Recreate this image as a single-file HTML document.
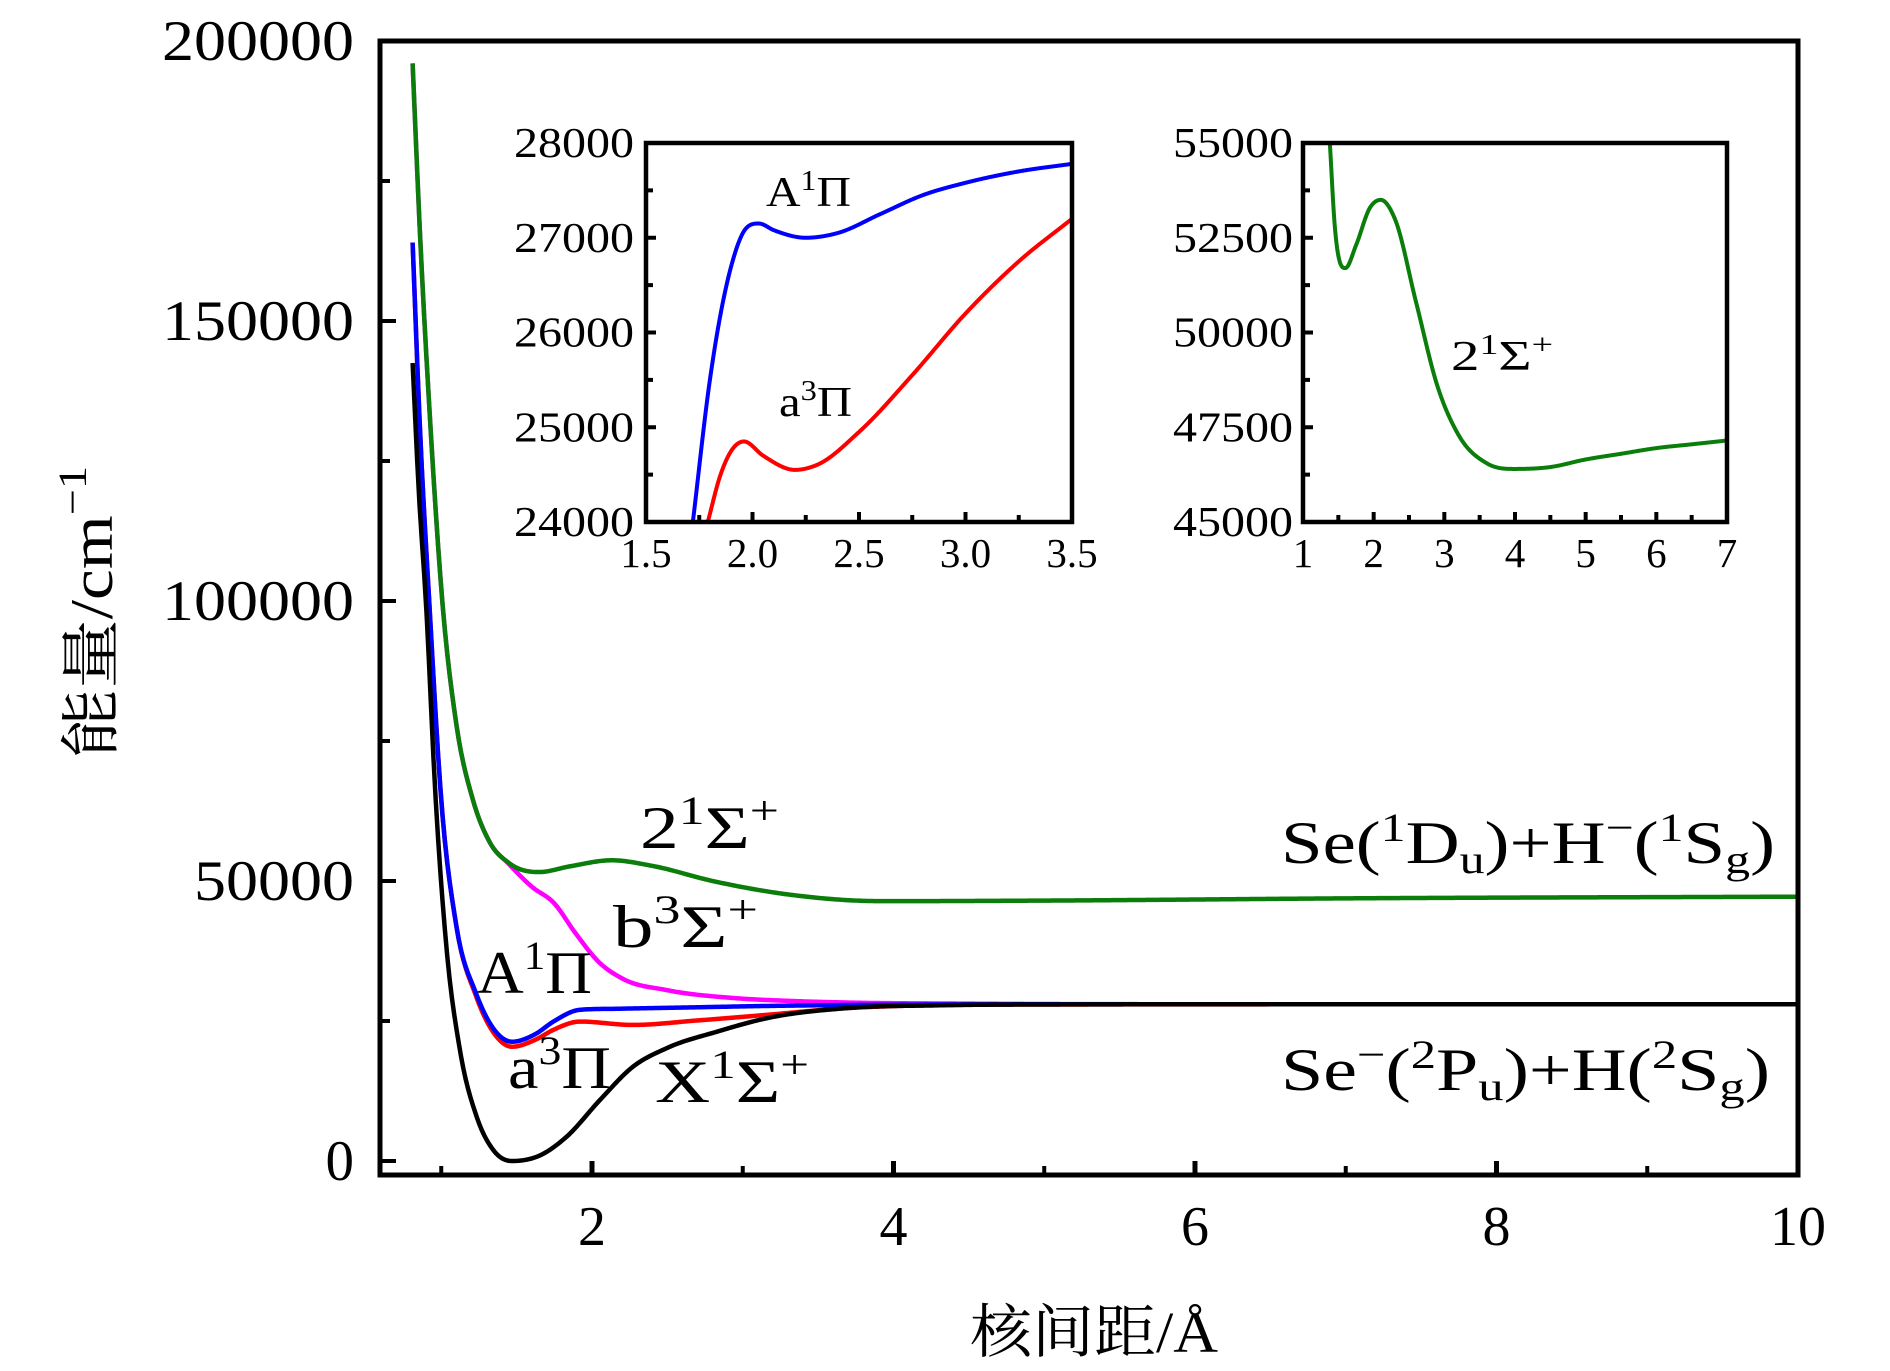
<!DOCTYPE html>
<html><head><meta charset="utf-8">
<style>
html,body{margin:0;padding:0;background:#fff;}
svg{display:block;font-family:"Liberation Serif","Noto Serif CJK SC",serif;}
</style></head>
<body>
<svg id="chart" width="1890" height="1371" viewBox="0 0 1890 1371" xmlns="http://www.w3.org/2000/svg">
<rect x="0" y="0" width="1890" height="1371" fill="#fff"/>
<g id="main-plot"></g>
<g id="inset1"></g>
<g id="inset2"></g>
<g id="labels">
<text x="640" y="848" font-size="60" textLength="139" lengthAdjust="spacingAndGlyphs">2<tspan font-size="40" dy="-24">1</tspan><tspan dy="24">Σ</tspan><tspan font-size="40" dy="-24">+</tspan></text>
<text x="613" y="947" font-size="60" textLength="145" lengthAdjust="spacingAndGlyphs">b<tspan font-size="40" dy="-24">3</tspan><tspan dy="24">Σ</tspan><tspan font-size="40" dy="-24">+</tspan></text>
<text x="477" y="993" font-size="60" textLength="115" lengthAdjust="spacingAndGlyphs">A<tspan font-size="40" dy="-24">1</tspan><tspan dy="24">Π</tspan></text>
<text x="508" y="1088" font-size="60" textLength="103" lengthAdjust="spacingAndGlyphs">a<tspan font-size="40" dy="-24">3</tspan><tspan dy="24">Π</tspan></text>
<text x="655" y="1102" font-size="60" textLength="154" lengthAdjust="spacingAndGlyphs">X<tspan font-size="40" dy="-24">1</tspan><tspan dy="24">Σ</tspan><tspan font-size="40" dy="-24">+</tspan></text>
<text x="1281" y="863" font-size="60" textLength="494" lengthAdjust="spacingAndGlyphs">Se(<tspan font-size="40" dy="-22">1</tspan><tspan dy="22">D</tspan><tspan font-size="40" dy="10">u</tspan><tspan dy="-10">)+H</tspan><tspan font-size="40" dy="-22">−</tspan><tspan dy="22">(</tspan><tspan font-size="40" dy="-22">1</tspan><tspan dy="22">S</tspan><tspan font-size="40" dy="10">g</tspan><tspan dy="-10">)</tspan></text>
<text x="1281" y="1090" font-size="60" textLength="489" lengthAdjust="spacingAndGlyphs">Se<tspan font-size="40" dy="-22">−</tspan><tspan dy="22">(</tspan><tspan font-size="40" dy="-22">2</tspan><tspan dy="22">P</tspan><tspan font-size="40" dy="10">u</tspan><tspan dy="-10">)+H(</tspan><tspan font-size="40" dy="-22">2</tspan><tspan dy="22">S</tspan><tspan font-size="40" dy="10">g</tspan><tspan dy="-10">)</tspan></text>
<text x="766" y="206" font-size="42" textLength="85" lengthAdjust="spacingAndGlyphs">A<tspan font-size="28" dy="-16">1</tspan><tspan dy="16">Π</tspan></text>
<text x="779" y="416" font-size="42" textLength="73" lengthAdjust="spacingAndGlyphs">a<tspan font-size="28" dy="-16">3</tspan><tspan dy="16">Π</tspan></text>
<text x="1451" y="370" font-size="42" textLength="102" lengthAdjust="spacingAndGlyphs">2<tspan font-size="28" dy="-16">1</tspan><tspan dy="16">Σ</tspan><tspan font-size="28" dy="-16">+</tspan></text>
<text transform="translate(112,612) rotate(-90)" text-anchor="middle" font-size="60" textLength="292" lengthAdjust="spacingAndGlyphs" font-family="'Liberation Serif','Noto Serif CJK SC',serif">能量/cm<tspan font-size="40" dy="-26">−1</tspan></text>
<text x="1094" y="1352" text-anchor="middle" font-size="58" textLength="248" lengthAdjust="spacingAndGlyphs" font-family="'Liberation Serif','Noto Serif CJK SC',serif">核间距/Å</text>
</g>
</svg>
<script>
// ---- main chart data ----
const xTicksMain = [2, 4, 6, 8, 10];
const xMinorMain = [1, 3, 5, 7, 9];
const yTicksMain = [0, 50000, 100000, 150000, 200000];
const yMinorMain = [25000, 75000, 125000, 175000];

const rX = [0.81,0.85,0.9,0.96,1.036,1.124,1.235,1.344,1.467,1.655,1.83,2.053,2.27,2.5,2.83,3.16,3.69,4.3,5,7,10];
const eX = [142500,120000,99000,66000,37700,19800,7900,2000,0,1000,4300,10900,16800,20200,23100,25500,27300,27800,27950,28000,28000];

const rA = [0.81,0.86,0.92,1.0,1.1,1.23,1.35,1.47,1.62,1.75,1.92,2.2,2.6,3.2,3.93,6,10];
const eA = [164000,130000,100000,64500,42000,30000,23500,21300,22600,25000,27000,27200,27400,27700,27900,28000,28000];

const rAa = [0.81,0.86,0.92,1.0,1.1,1.23,1.35,1.47,1.62,1.75,1.92,2.27,2.7,3.16,3.69,5,10];
const eAa = [164000,130000,100000,64500,42000,29500,22800,20400,21600,23500,24900,24300,25100,26100,27300,27950,28000];

const rG = [0.81,0.86,0.92,1.01,1.1,1.21,1.32,1.45,1.65,1.85,2.13,2.4,2.8,3.3,3.93,5,7,10];
const eG = [196000,165000,135000,99000,78000,64500,57000,53200,51600,52600,53700,52700,50000,47600,46400,46500,46900,47200];

const rB = [0.81,0.86,0.92,1.01,1.1,1.21,1.32,1.45,1.6,1.75,1.89,2.05,2.2,2.5,2.94,3.3,3.69,4.5,6,10];
const eB = [196000,165000,135000,99000,78000,64500,57000,53000,49000,46000,40700,35400,32600,30500,29100,28600,28300,28100,28000,28000];

// ---- inset 1 data ----
const xTicks1 = [1.5, 2.0, 2.5, 3.0, 3.5];
const yTicks1 = [24000, 25000, 26000, 27000, 28000];
const rI1A = [1.72,1.8,1.9,1.97,2.03,2.1,2.25,2.4,2.6,2.8,3.0,3.25,3.5];
const eI1A = [24000,25500,26700,27100,27150,27080,27000,27050,27250,27450,27580,27700,27780];
const rI1a = [1.79,1.85,1.9,1.96,2.05,2.2,2.3,2.5,2.75,3.0,3.25,3.5];
const eI1a = [24000,24500,24750,24850,24700,24550,24600,24950,25550,26200,26750,27200];

// ---- inset 2 data ----
const xTicks2 = [1, 2, 3, 4, 5, 6, 7];
const yTicks2 = [45000, 47500, 50000, 52500, 55000];
const rI2 = [1.38,1.45,1.6,1.75,1.95,2.1,2.3,2.6,2.9,3.2,3.6,4.0,4.5,5,5.5,6,6.5,7];
const eI2 = [55000,52800,51700,52300,53300,53500,53000,50800,48600,47300,46550,46400,46450,46650,46800,46950,47050,47150];

const NS = "http://www.w3.org/2000/svg";
function mk(parent, tag, attrs) {
  const el = document.createElementNS(NS, tag);
  for (const k in attrs) el.setAttribute(k, attrs[k]);
  parent.appendChild(el);
  return el;
}
function scale(d0, d1, p0, p1) { return v => p0 + (v - d0) / (d1 - d0) * (p1 - p0); }

function smooth(xs, ys) {
  const n = xs.length, d = [], m = [];
  for (let i = 0; i < n - 1; i++) d.push((ys[i+1]-ys[i])/(xs[i+1]-xs[i]));
  m[0] = d[0]; m[n-1] = d[n-2];
  for (let i = 1; i < n - 1; i++) {
    if (d[i-1]*d[i] <= 0) { m[i] = 0; continue; }
    const h0 = xs[i]-xs[i-1], h1 = xs[i+1]-xs[i];
    m[i] = (d[i-1]*h1 + d[i]*h0)/(h0+h1);
    const lim = 3*Math.min(Math.abs(d[i-1]), Math.abs(d[i]));
    if (Math.abs(m[i]) > lim) m[i] = Math.sign(m[i])*lim;
  }
  return x => {
    let i = 0;
    while (i < n - 2 && x > xs[i+1]) i++;
    const h = xs[i+1]-xs[i], t = (x - xs[i]) / h;
    const h00 = 2*t*t*t - 3*t*t + 1, h10 = t*t*t - 2*t*t + t, h01 = -2*t*t*t + 3*t*t, h11 = t*t*t - t*t;
    return h00*ys[i] + h10*h*m[i] + h01*ys[i+1] + h11*h*m[i+1];
  };
}
function curvePath(xs, ys, sx, sy) {
  const f = smooth(xs, ys);
  const a = xs[0], b = xs[xs.length-1], N = 600;
  let p = "";
  for (let k = 0; k <= N; k++) {
    const x = a + (b - a) * k / N;
    p += (k ? "L" : "M") + sx(x).toFixed(2) + "," + sy(f(x)).toFixed(2);
  }
  return p;
}

// ---------- main ----------
const mg = document.getElementById("main-plot");
const L = 380, R = 1798, T = 41, B = 1175;
const sx = scale(2, 10, 592, 1798);
const sy = scale(0, 200000, 1161, 41);
const clip = mk(mg, "clipPath", {id: "clipMain"});
mk(clip, "rect", {x: L, y: T, width: R - L, height: B - T});
const curves = mk(mg, "g", {"clip-path": "url(#clipMain)"});
const series = [
  ["curve-b3-sigma", rB, eB, "#ff00ff"],
  ["curve-2-sigma", rG, eG, "#0a7d0a"],
  ["curve-a3-pi", rAa, eAa, "#ff0000"],
  ["curve-A1-pi", rA, eA, "#0000ff"],
  ["curve-X1-sigma", rX, eX, "#000000"]
];
series.forEach(s => {
  const p = mk(curves, "path", {d: curvePath(s[1], s[2], sx, sy), fill: "none", stroke: s[3], "stroke-width": 4.5, "stroke-linejoin": "round"});
  
  
});
xTicksMain.forEach(v => {
  const t = mk(mg, "line", {x1: sx(v), x2: sx(v), y1: B, y2: B - 14, stroke: "#000", "stroke-width": 5});
  
  
  const lb = mk(mg, "text", {x: sx(v), y: 1245, "text-anchor": "middle", "font-size": 56});
  
  
  lb.textContent = String(v);
});
xMinorMain.forEach(v => {
  const t = mk(mg, "line", {x1: sx(v), x2: sx(v), y1: B, y2: B - 9, stroke: "#000", "stroke-width": 4});
  
  
});
yTicksMain.forEach(v => {
  const t = mk(mg, "line", {x1: L, x2: L + 16, y1: sy(v), y2: sy(v), stroke: "#000", "stroke-width": 4});
  
  
  const s = String(v);
  const attrs = {x: 354, y: sy(v) + 19, "text-anchor": "end", "font-size": 57};
  if (s.length > 1) { attrs.textLength = s.length * 32; attrs.lengthAdjust = "spacingAndGlyphs"; }
  const lb = mk(mg, "text", attrs);
  
  
  lb.textContent = s;
});
yMinorMain.forEach(v => {
  const t = mk(mg, "line", {x1: L, x2: L + 10, y1: sy(v), y2: sy(v), stroke: "#000", "stroke-width": 4});
  
  
});
const frame = mk(mg, "rect", {x: L, y: T, width: R - L, height: B - T, fill: "none", stroke: "#000", "stroke-width": 5});



// ---------- insets ----------
function inset(g, id, x0, x1, y0, y1, xd, yd, xt, yt, xminor, yminor, list, ylab) {
  const sxi = scale(xd[0], xd[1], x0, x1);
  const syi = scale(yd[0], yd[1], y1, y0);
  const cp = mk(g, "clipPath", {id: id});
  mk(cp, "rect", {x: x0, y: y0, width: x1 - x0, height: y1 - y0});
  const cg = mk(g, "g", {"clip-path": "url(#" + id + ")"});
  list.forEach(s => {
    const p = mk(cg, "path", {d: curvePath(s[1], s[2], sxi, syi), fill: "none", stroke: s[3], "stroke-width": 4, "stroke-linejoin": "round"});
    
    
  });
  xt.forEach(v => {
    const t = mk(g, "line", {x1: sxi(v), x2: sxi(v), y1: y1, y2: y1 - 10, stroke: "#000", "stroke-width": 4});
    
    
    const lb = mk(g, "text", {x: sxi(v), y: 567, "text-anchor": "middle", "font-size": 41});
    
    
    lb.textContent = xd[2] ? v.toFixed(1) : String(v);
  });
  xminor.forEach(v => {
    const t = mk(g, "line", {x1: sxi(v), x2: sxi(v), y1: y1, y2: y1 - 7, stroke: "#000", "stroke-width": 4});
    
    
  });
  yt.forEach(v => {
    const t = mk(g, "line", {x1: x0, x2: x0 + 10, y1: syi(v), y2: syi(v), stroke: "#000", "stroke-width": 4});
    
    
    const lb = mk(g, "text", {x: ylab, y: syi(v) + 14, "text-anchor": "end", "font-size": 42, textLength: 120, lengthAdjust: "spacingAndGlyphs"});
    
    
    lb.textContent = String(v);
  });
  yminor.forEach(v => {
    const t = mk(g, "line", {x1: x0, x2: x0 + 7, y1: syi(v), y2: syi(v), stroke: "#000", "stroke-width": 4});
    
    
  });
  const fr = mk(g, "rect", {x: x0, y: y0, width: x1 - x0, height: y1 - y0, fill: "none", stroke: "#000", "stroke-width": 4.5});
  
  
}
inset(document.getElementById("inset1"), "clipI1", 646, 1072, 143, 522, [1.5, 3.5, true], [24000, 28000],
  xTicks1, yTicks1, [1.75, 2.25, 2.75, 3.25], [24500, 25500, 26500, 27500],
  [["inset-curve-A1-pi", rI1A, eI1A, "#0000ff"], ["inset-curve-a3-pi", rI1a, eI1a, "#ff0000"]], 634);
inset(document.getElementById("inset2"), "clipI2", 1303, 1727, 143, 522, [1, 7, false], [45000, 55000],
  xTicks2, yTicks2, [1.5, 2.5, 3.5, 4.5, 5.5, 6.5], [46250, 48750, 51250, 53750],
  [["inset-curve-2-sigma", rI2, eI2, "#0a7d0a"]], 1293);
</script>
</body></html>
